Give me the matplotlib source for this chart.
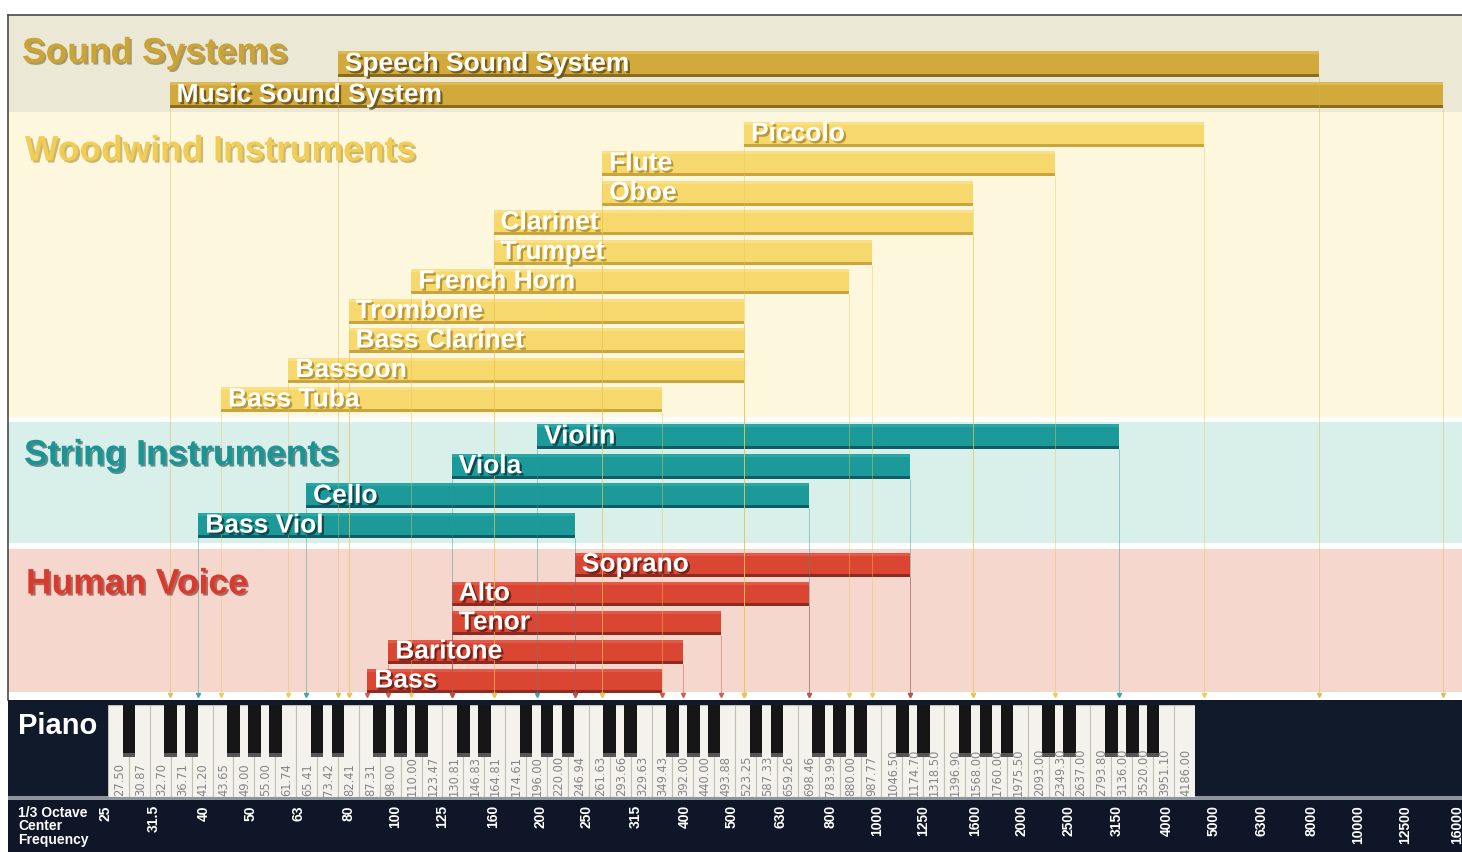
import numpy as np
import matplotlib.pyplot as plt
import matplotlib.patheffects as pe
from matplotlib.transforms import blended_transform_factory

plt.rcParams['font.family'] = ['Liberation Sans', 'DejaVu Sans']

# 1/3 octave centre frequencies (bottom strip)
octave_labels = ['25', '31.5', '40', '50', '63', '80', '100', '125', '160', '200',
                 '250', '315', '400', '500', '630', '800', '1000', '1250', '1600',
                 '2000', '2500', '3150', '4000', '5000', '6300', '8000', '10000',
                 '12500', '16000']
octave_freqs = [float(s) for s in octave_labels]

# piano white keys, A0 .. C8 (Hz, as printed on the keys)
piano_keys = ['27.50', '30.87', '32.70', '36.71', '41.20', '43.65', '49.00', '55.00',
              '61.74', '65.41', '73.42', '82.41', '87.31', '98.00', '110.00', '123.47',
              '130.81', '146.83', '164.81', '174.61', '196.00', '220.00', '246.94',
              '261.63', '293.66', '329.63', '349.43', '392.00', '440.00', '493.88',
              '523.25', '587.33', '659.26', '698.46', '783.99', '880.00', '987.77',
              '1046.50', '1174.70', '1318.50', '1396.90', '1568.00', '1760.00',
              '1975.50', '2093.00', '2349.30', '2637.00', '2793.80', '3136.00',
              '3520.00', '3951.10', '4186.00']
key_names = 'ABCDEFG'

# frequency ranges (Hz)
sound_names = ['Speech Sound System', 'Music Sound System']
sound_lo = [76, 34]
sound_hi = [8280, 15000]

wood_names = ['Piccolo', 'Flute', 'Oboe', 'Clarinet', 'Trumpet', 'French Horn',
              'Trombone', 'Bass Clarinet', 'Bassoon', 'Bass Tuba']
wood_lo = [530, 269, 269, 160, 160, 108, 80, 80, 60, 43.5]
wood_hi = [4780, 2345, 1585, 1585, 978, 876, 530, 530, 530, 358]

string_names = ['Violin', 'Viola', 'Cello', 'Bass Viol']
string_lo = [197, 131, 65.3, 39]
string_hi = [3185, 1173, 724, 236]

voice_names = ['Soprano', 'Alto', 'Tenor', 'Baritone', 'Bass']
voice_lo = [236, 131, 131, 96.7, 87.5]
voice_hi = [1173, 724, 475, 396, 358]

W, H = 1462, 852
XLIM = (15.7, 16400)
fig = plt.figure(figsize=(W / 100, H / 100), dpi=100)
fig.patch.set_facecolor('white')


def px_axes(x0, y0, x1, y1):
    return fig.add_axes([x0 / W, 1 - y1 / H, (x1 - x0) / W, (y1 - y0) / H])


# main chart area, y in pixel rows from the top
ax = px_axes(8, 15, 1462, 700)
ax.set_xscale('log')
ax.set_xlim(*XLIM)
ax.set_ylim(700, 15)
ax.set_xticks([])
ax.set_yticks([])
ax.minorticks_off()
for s in ['right', 'bottom']:
    ax.spines[s].set_visible(False)
for s in ['left', 'top']:
    ax.spines[s].set_color('#4a4a4a')
    ax.spines[s].set_linewidth(1.2)

bands = [(15, 112, '#ece8d6'), (112, 417, '#fdf8dd'), (417, 422, 'white'),
         (422, 543, '#d9f0ea'), (543, 549, 'white'), (549, 692, '#f6d7ce'),
         (692, 700, 'white')]
for y0, y1, c in bands:
    ax.axhspan(y0, y1, color=c, lw=0, zorder=0)


def draw_group(names, lo, hi, y0, pitch, h, face, dark, light, line, txt_shadow):
    ys = y0 + pitch * np.arange(len(names))
    lo = np.asarray(lo, float)
    hi = np.asarray(hi, float)
    ax.barh(ys, hi - lo, left=lo, height=h, color=face, zorder=2)
    ax.barh(ys - h / 2 + 1.5, hi - lo, left=lo, height=3, color=light, zorder=2)
    ax.barh(ys + h / 2 - 1.5, hi - lo, left=lo, height=3, color=dark, zorder=2)
    for xs in (lo, hi):
        ax.vlines(xs, ys + h / 2, 693, colors=line, lw=0.7, alpha=0.45, zorder=3)
        ax.plot(xs, np.full(len(xs), 694.5), 'v', ms=3, color=line, alpha=0.8, zorder=3)
    for name, x, y in zip(names, lo, ys):
        ax.annotate(name, (x, y), xytext=(5, 0), textcoords='offset points',
                    va='center', ha='left', fontsize=19, fontweight='bold',
                    color='white', zorder=5, annotation_clip=False,
                    path_effects=[pe.withSimplePatchShadow(offset=(1.6, -1.6),
                                                           shadow_rgbFace=txt_shadow,
                                                           alpha=0.9)])


draw_group(sound_names, sound_lo, sound_hi, 64, 31, 26,
           '#d2aa3c', '#8a6c1e', '#dcb955', '#d8b84a', '#6b5418')
draw_group(wood_names, wood_lo, wood_hi, 134, 29.5, 25,
           '#f7d86c', '#caa43c', '#f9e088', '#e9c64e', '#b3932f')
draw_group(string_names, string_lo, string_hi, 436.5, 29.7, 25,
           '#1c9a9a', '#0d5c66', '#2aa6a5', '#2a9a9a', '#0b4148')
draw_group(voice_names, voice_lo, voice_hi, 564.5, 29, 24,
           '#db4632', '#8e2a20', '#e2594a', '#d2483a', '#6a1e17')

# section titles
titles = [('Sound Systems', 22, 53, '#cba436', '#7d6420'),
          ('Woodwind Instruments', 25, 151, '#f2cd55', '#a88a30'),
          ('String Instruments', 24, 455, '#1d9494', '#0c4a4e'),
          ('Human Voice', 26, 584, '#d83b2e', '#7a1f18')]
for t, x, y, c, sh in titles:
    fig.text(x / W, 1 - y / H, t, color=c, fontsize=25.5, fontweight='bold',
             va='center', ha='left',
             path_effects=[pe.withSimplePatchShadow(offset=(1.5, -1.5),
                                                    shadow_rgbFace=sh, alpha=0.6)])

# piano strip
pbg = px_axes(8, 700, 1462, 800)
pbg.set_facecolor('#101a2b')
pbg.set_xlim(0, 1)
pbg.set_ylim(800, 700)
pbg.axhspan(796, 800, color='#8e949c', lw=0)
pbg.set_xticks([])
pbg.set_yticks([])
for s in pbg.spines.values():
    s.set_visible(False)
fig.text(18 / W, 1 - 726 / H, 'Piano', color='white', fontsize=21,
         fontweight='bold', va='center', ha='left')

kax = px_axes(108, 705, 1195, 797)
n = len(piano_keys)
kax.set_xlim(0, n)
kax.set_ylim(0, 1)
kax.bar(np.arange(n) + 0.5, 1, width=1, color='#f4f2ed', edgecolor='#c4bfb5', lw=0.8)
black_pos = [i + 1 for i in range(n - 1) if key_names[i % 7] in 'ACDFG']
kax.bar(black_pos, 0.56, bottom=0.44, width=0.6, color='#161616', zorder=3)
kax.bar(black_pos, 0.04, bottom=0.44, width=0.6, color='#555555', zorder=3)
for i, lbl in enumerate(piano_keys):
    kax.text(i + 0.55, 0.015, lbl, rotation=90, ha='center', va='bottom',
             fontsize=8.3, color='#858585',
             family=['Liberation Sans Narrow', 'DejaVu Sans'])
kax.axis('off')

# 1/3 octave strip
sax = px_axes(8, 800, 1462, 852)
sax.set_facecolor('#0e1627')
sax.set_xscale('log')
sax.set_xlim(*XLIM)
sax.set_ylim(0, 1)
sax.set_xticks([])
sax.set_yticks([])
sax.minorticks_off()
for s in sax.spines.values():
    s.set_visible(False)
tr = blended_transform_factory(sax.transData, sax.transAxes)
for f, lbl in zip(octave_freqs, octave_labels):
    sax.text(f, 0.9, lbl, transform=tr, rotation=90, ha='center', va='top',
             fontsize=10, fontweight='bold', color='white')
fig.text(18 / W, 1 - 806 / H, '1/3 Octave\nCenter\nFrequency', color='white',
         fontsize=10, fontweight='bold', va='top', ha='left', linespacing=0.95)

fig.savefig('out.png', dpi=100)
